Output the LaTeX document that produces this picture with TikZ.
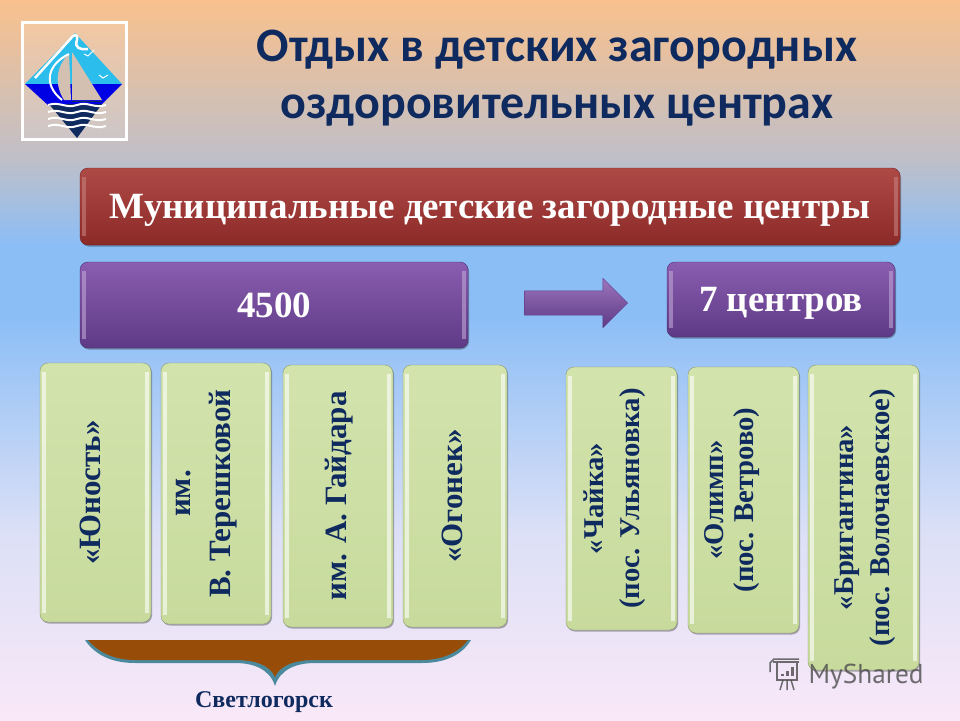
\documentclass[tikz,border=0pt]{standalone}
\usepackage{fontspec}
\usepackage{graphicx}
\setmainfont{Liberation Serif}
\newfontfamily\titlefont{Carlito}
\newfontfamily\markfont{PT Sans}
\usetikzlibrary{positioning, shapes.arrows, shadows}
\definecolor{navy}{HTML}{0F2A5F}
\definecolor{redtop}{HTML}{AE4A46}
\definecolor{redbot}{HTML}{8C2A28}
\definecolor{purtop}{HTML}{8A5DB0}
\definecolor{purbot}{HTML}{5E3A86}
\definecolor{grntop}{HTML}{D2E3AC}
\definecolor{grnbot}{HTML}{C8DB9D}
\definecolor{bgpink}{HTML}{F9E8F8}
\definecolor{bglav}{HTML}{DCE0F6}
\definecolor{bgblue}{HTML}{8CBEF6}
\definecolor{bggray}{HTML}{BFBFC8}
\definecolor{bgorange}{HTML}{F9C18D}
\definecolor{bracetop}{HTML}{974C08}
\definecolor{braceedge}{HTML}{4A8A9C}
\definecolor{logosky}{HTML}{2BBDEB}
\definecolor{logosail}{HTML}{D4C0B0}
\pgfdeclareverticalshading{slidebg}{100bp}{
    color(0bp)=(bgpink); color(25bp)=(bgpink); color(38bp)=(bglav);
    color(53bp)=(bgblue); color(58bp)=(bgblue); color(64bp)=(bggray); color(75bp)=(bgorange); color(100bp)=(bgorange)
}
\newcommand{\sidetext}[2][0]{\hspace*{#1pt}\rotatebox{90}{\begin{tabular}{@{}c@{}}#2\end{tabular}}}
\tikzset{
    bevel/.style n args={3}{
        rounded corners=8pt, shade, top color=#1, bottom color=#2,
        inner sep=0pt, align=center,
        drop shadow={shadow xshift=1pt, shadow yshift=-1.5pt, opacity=.3, fill=black},
        path picture={
            \draw[#3, line width=4pt, opacity=.6] ([xshift=4pt,yshift=-9pt]path picture bounding box.north west) -- ([xshift=4pt,yshift=9pt]path picture bounding box.south west);
            \draw[#3, line width=4pt, opacity=.6] ([xshift=-4pt,yshift=-9pt]path picture bounding box.north east) -- ([xshift=-4pt,yshift=9pt]path picture bounding box.south east);
        },
    },
    wide/.style={bevel={redtop}{redbot}{redtop!70!white}, draw=redbot!80!black, text=white, text height=30pt, text depth=6pt, font=\bfseries\fontsize{37}{40}\selectfont},
    violet/.style={bevel={purtop}{purbot}{purtop!55!white}, draw=purbot!80!black, text=white, text height=30pt, text depth=6pt, font=\bfseries\fontsize{37}{40}\selectfont},
    tall/.style={bevel={grntop}{grnbot}{white}, draw=grnbot!70!black, text=navy, font=\bfseries\fontsize{31}{40}\selectfont},
    tallsmall/.style={tall, font=\bfseries\fontsize{28.7}{36}\selectfont},
}
\begin{document}
\begin{tikzpicture}[x=1pt, y=-1pt]
\useasboundingbox (0,0) rectangle (960,720);
\shade[shading=slidebg] (0,0) rectangle (960,720);

% logo
\draw[white, line width=3pt, fill=white, fill opacity=.12] (22,22) rectangle (126,139);
\fill[logosky] (75,33) -- (122,84) -- (25,84) -- cycle;
\fill[blue!90!black] (25,84) -- (122,84) -- (100,106) -- (49,106) -- cycle;
\fill[navy] (49,104) -- (102,104) -- (77,138) -- cycle;
\foreach \wavey in {105,112,119,126}
    \draw[white, line width=2pt] (48,\wavey) .. controls (60,\wavey-4) and (66,\wavey+4) .. (77,\wavey) .. controls (88,\wavey-4) and (94,\wavey+4) .. (106,\wavey);
\draw[white, line width=2.5pt] (35,78) -- (73,36) .. controls (76,34) and (78,36) .. (77,40) .. controls (74,48) and (80,50) .. (88,49);
\fill[logosail] (72,52) -- (102,100) -- (72,100) -- cycle;
\fill[logosail] (69,54) .. controls (56,66) and (54,84) .. (64,100) -- (71,100) -- cycle;
\draw[white, line width=2pt] (69,54) .. controls (48,64) and (42,84) .. (62,100);
\draw[navy, line width=1pt] (72,101) -- (102,101);
\draw[white, line width=1pt] (84,54) -- (88,56) -- (94,50) (99,75) -- (103,78) -- (108,75);

% titles
\node[text=navy, font=\titlefont\bfseries\fontsize{48}{57}\selectfont, align=center] (title) at (557,78) {Отдых в детских загородных\\оздоровительных центрах};

% upper boxes
\node[wide, minimum width=820, minimum height=77] (munic) at (490,206.5) {Муниципальные детские загородные центры};
\node[violet, minimum width=388, minimum height=86] (total) at (274,305) {4500};
\node[violet, minimum width=228, minimum height=75] (seven) at (781,299.5) {7 центров};
\node[single arrow, single arrow tip angle=90, single arrow head extend=12.5, inner sep=0pt, minimum height=103,
    shade, top color=purtop!85!white, bottom color=purbot, draw=purbot] (next) at (570,303) {\rule{0pt}{24pt}};

% left group
\node[tall, minimum width=111, minimum height=259] (yunost) at (95.5,492.5) {\sidetext[-6]{«Юность»}};
\node[tall, minimum width=110, minimum height=261] (teresh) at (216,493.5) {\sidetext[-27]{им.\\В. Терешковой}};
\node[tall, minimum width=110, minimum height=262] (gaidar) at (338,496) {\sidetext{им. А. Гайдара}};
\node[tall, minimum width=104, minimum height=262] (ogonek) at (455,496) {\sidetext[-2]{«Огонек»}};

% right group
\node[tallsmall, minimum width=111, minimum height=263] (chaika) at (621.5,498.5) {\sidetext[-14]{«Чайка»\\(пос. Ульяновка)}};
\node[tallsmall, minimum width=111, minimum height=266] (olimp) at (743.5,500) {\sidetext[-24]{«Олимп»\\[-6pt](пос. Ветрово)}};
\node[tallsmall, minimum width=111, minimum height=305] (brig) at (863.5,517.5) {\sidetext[2]{«Бригантина»\\(пос. Волочаевское)}};

% brace
\fill[braceedge] (85,640) .. controls (95,655) and (112,663) .. (135,663) -- (235,663) .. controls (255,663) and (270,670) .. (275,686)
    .. controls (280,670) and (295,663) .. (315,663) -- (422,663) .. controls (445,663) and (462,655) .. (471,640) -- cycle;
\fill[bracetop] (88,640) .. controls (98,652) and (114,660) .. (135,660) -- (235,660) .. controls (255,660) and (270,665) .. (275,677)
    .. controls (280,665) and (295,660) .. (315,660) -- (422,660) .. controls (443,660) and (459,652) .. (468,640) -- cycle;
\node[text=navy, font=\bfseries\fontsize{24}{28}\selectfont] (town) at (264,702) {Светлогорск};

% watermark
\begin{scope}[black!70, line width=1.5pt, opacity=.8]
    \draw (773,662) -- (799,662) (777,662) -- (777,680) -- (797,680) -- (797,662);
    \draw (770,672) -- (770,663) -- (774,659) -- (799,659);
    \draw (783,680) -- (780,690) (787,680) -- (787,690) (791,680) -- (794,690);
    \draw[line width=3pt] (782,676) -- (782,674) (787,676) -- (787,671) (792,676) -- (792,667);
\end{scope}
\node[text=black!70, opacity=.8, font=\markfont\fontsize{27.3}{30}\selectfont, anchor=west] (mark) at (805,677) {MyShared};
\end{tikzpicture}
\end{document}
